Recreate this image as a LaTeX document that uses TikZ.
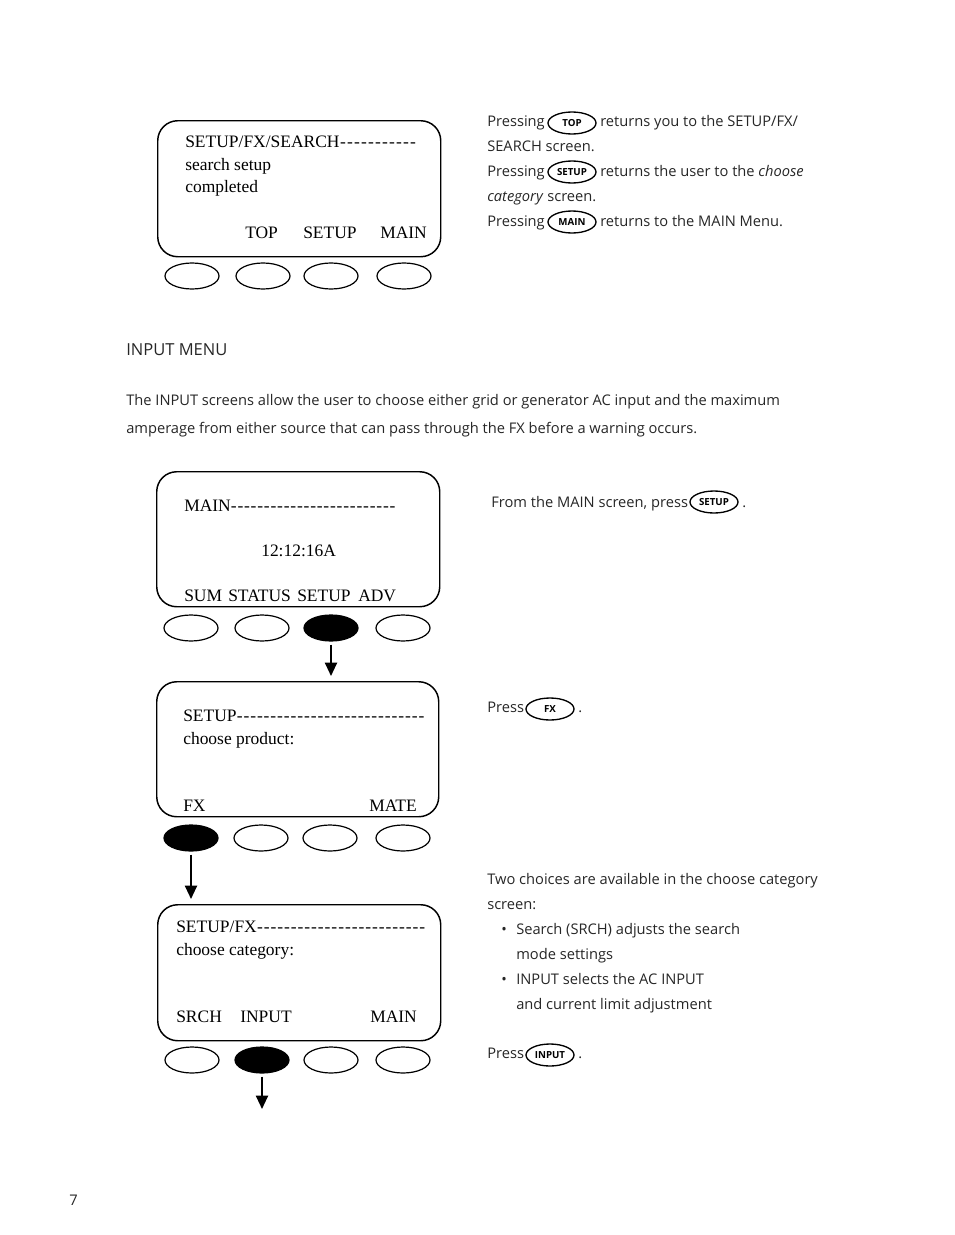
\documentclass[tikz,border=0pt]{standalone}
\usepackage{fontspec}
\setmainfont{Open Sans}
\newfontfamily\scr{Liberation Serif}
\usetikzlibrary{shapes.geometric,arrows.meta}
\newcommand\lcdfill[2]{\hbox to #1{#2\xleaders\hbox{-\kern0.55pt}\hfill}}
\begin{document}
\begin{tikzpicture}[x=0.75pt,y=-0.75pt,
  screen/.style={draw, line width=1.1pt, rounded corners=15pt, anchor=north west, inner sep=0},
  btn/.style={draw, ellipse, line width=0.9pt, minimum width=40.5pt, minimum height=19.5pt, inner sep=0},
  btnon/.style={btn, fill=black},
  lcd/.style={font=\scr\fontsize{13.1}{16}\selectfont, anchor=base west, inner sep=0},
  body/.style={font=\fontsize{11}{13}\selectfont, anchor=base west, inner sep=0, text=black!85},
  keyb/.style={draw, ellipse, line width=1pt, minimum width=36pt, minimum height=16.5pt, inner sep=0, font=\bfseries\fontsize{7.3}{8}\selectfont},
  flow/.style={line width=1.5pt, -{Triangle[width=9pt,length=10pt]}, shorten <=2.25pt, shorten >=3.75pt}
]
\useasboundingbox (0,0) rectangle (954,1235);

% ---------- screen 1 ----------
\node[screen, minimum width=212.25pt, minimum height=102pt] (s1) at (157,120) {};
\node[lcd] (s1t1) at (185,147) {\lcdfill{174pt}{SETUP/FX/SEARCH}};
\node[lcd] (s1t2) at (185,170) {search setup};
\node[lcd] (s1t3) at (185,192) {completed};
\node[lcd] (s1k2) at (245,238) {TOP};
\node[lcd] (s1k3) at (303,238) {SETUP};
\node[lcd] (s1k4) at (380,238) {MAIN};
\node[btn] (b1a) at (192,276) {};
\node[btn] (b1b) at (263,276) {};
\node[btn] (b1c) at (331,276) {};
\node[btn] (b1d) at (404,276) {};

\node[body] (p1a) at (487,126) {Pressing};
\node[keyb] (k1) at (572,123) {TOP};
\node[body] (p1b) at (600,126) {returns you to the SETUP/FX/};
\node[body] (p1c) at (487,151) {SEARCH screen.};
\node[body] (p2a) at (487,176) {Pressing};
\node[keyb] (k2) at (572,172) {SETUP};
\node[body] (p2b) at (600,176) {returns the user to the \textit{choose}};
\node[body] (p2c) at (487,201) {\textit{category} screen.};
\node[body] (p3a) at (487,226) {Pressing};
\node[keyb] (k3) at (572,222) {MAIN};
\node[body] (p3b) at (600,226) {returns to the MAIN Menu.};

% ---------- heading and paragraph ----------
\node[body, font=\fontsize{12.4}{14}\selectfont] (h) at (126,355) {INPUT MENU};
\node[body] (par1) at (126,405) {The INPUT screens allow the user to choose either grid or generator AC input and the maximum};
\node[body] (par2) at (126,433) {amperage from either source that can pass through the FX before a warning occurs.};

% ---------- screen 2 ----------
\node[screen, minimum width=212.25pt, minimum height=101.25pt] (s2) at (156,471) {};
\node[lcd] (s2t1) at (184,511) {\lcdfill{159pt}{MAIN}};
\node[lcd] (s2t2) at (261,556) {12:12:16A};
\node[lcd] (s2k1) at (184,601) {SUM};
\node[lcd] (s2k2) at (228,601) {STATUS};
\node[lcd] (s2k3) at (297,601) {SETUP};
\node[lcd] (s2k4) at (358,601) {ADV};
\node[btn] (b2a) at (191,628) {};
\node[btn] (b2b) at (262,628) {};
\node[btnon] (b2c) at (331,628) {};
\node[btn] (b2d) at (403,628) {};

\node[body] (q1) at (491,507) {From the MAIN screen, press};
\node[keyb] (k4) at (714,502) {SETUP};
\node[body] (q1d) at (742,507) {.};

% ---------- screen 3 ----------
\node[screen, minimum width=211.5pt, minimum height=101.25pt] (s3) at (156,681) {};
\node[lcd] (s3t1) at (183,721) {\lcdfill{181.5pt}{SETUP}};
\node[lcd] (s3t2) at (183,744) {choose product:};
\node[lcd] (s3k1) at (183,811) {FX};
\node[lcd] (s3k4) at (369,811) {MATE};
\node[btnon] (b3a) at (191,838) {};
\node[btn] (b3b) at (261,838) {};
\node[btn] (b3c) at (330,838) {};
\node[btn] (b3d) at (403,838) {};

\node[body] (r1) at (487,712) {Press};
\node[keyb] (k5) at (550,709) {FX};
\node[body] (r1d) at (578,712) {.};

% ---------- screen 4 ----------
\node[screen, minimum width=212.25pt, minimum height=102pt] (s4) at (157,904) {};
\node[lcd] (s4t1) at (176,932) {\lcdfill{187.5pt}{SETUP/FX}};
\node[lcd] (s4t2) at (176,955) {choose category:};
\node[lcd] (s4k1) at (176,1022) {SRCH};
\node[lcd] (s4k2) at (240,1022) {INPUT};
\node[lcd] (s4k4) at (370,1022) {MAIN};
\node[btn] (b4a) at (192,1060) {};
\node[btnon] (b4b) at (262,1060) {};
\node[btn] (b4c) at (331,1060) {};
\node[btn] (b4d) at (403,1060) {};
\coordinate (end4) at (262,1114);

\node[body] (t1) at (487,884) {Two choices are available in the choose category};
\node[body] (t2) at (487,909) {screen:};
\node[body] (t3b) at (501,934) {\textbullet};
\node[body] (t3) at (516,934) {Search (SRCH) adjusts the search};
\node[body] (t4) at (516,959) {mode settings};
\node[body] (t5b) at (501,984) {\textbullet};
\node[body] (t5) at (516,984) {INPUT selects the AC INPUT};
\node[body] (t6) at (516,1009) {and current limit adjustment};
\node[body] (u1) at (487,1058) {Press};
\node[keyb] (k6) at (550,1055) {INPUT};
\node[body] (u1d) at (578,1058) {.};

% ---------- arrows ----------
\draw[flow] (b2c.south) -- (s3.north -| b2c);
\draw[flow] (b3a.south) -- (s4.north -| b3a);
\draw[flow] (b4b.south) -- (end4);

\node[body] (pg) at (69,1205) {7};
\end{tikzpicture}
\end{document}
